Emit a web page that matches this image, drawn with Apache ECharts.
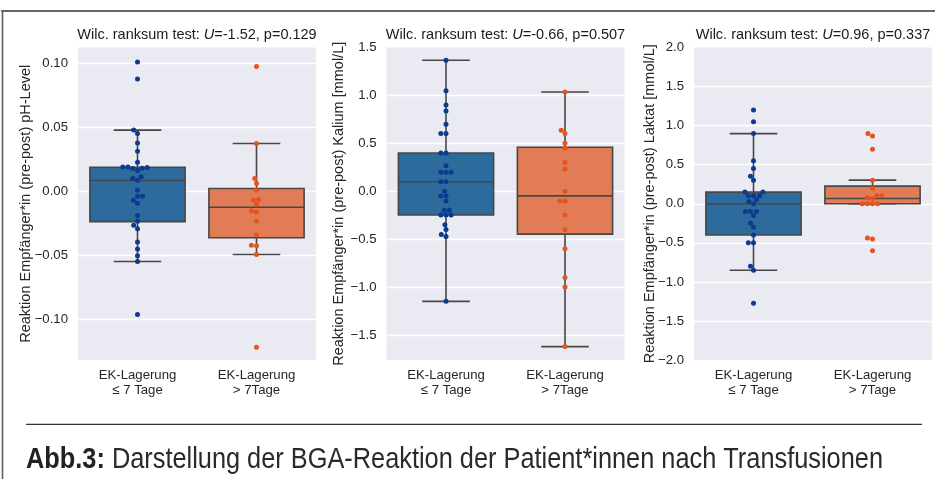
<!DOCTYPE html>
<html><head><meta charset="utf-8">
<script src="https://cdn.jsdelivr.net/npm/echarts@6/dist/echarts.min.js"></script>
<style>html,body{margin:0;padding:0;background:#fff}#c{width:935px;height:479px}</style>
</head><body><div id="c"></div>
<script>
// ---------- data ----------
const categories = ['EK-Lagerung\n≤ 7 Tage', 'EK-Lagerung\n> 7Tage'];
const yNames = [
  'Reaktion Empfänger*in (pre-post) pH-Level',
  'Reaktion Empfänger*in (pre-post) Kalium [mmol/L]',
  'Reaktion Empfänger*in (pre-post) Laktat [mmol/L]'
];
const testU = ['-1.52', '-0.66', '0.96'];
const testP = ['0.129', '0.507', '0.337'];
const captionBold = 'Abb.3:';
const captionText = ' Darstellung der BGA-Reaktion der Patient*innen nach Transfusionen';

// individual values (swarm points)
const phShort = [0.1013, 0.088, 0.0479, 0.0453, 0.0377, 0.0314, 0.0228, 0.019, 0.0186, 0.018, 0.0178, 0.019, 0.0162, 0.0113, 0.0099, 0.0086, 0.0008, -0.0039, -0.0039, -0.0071, -0.0094, -0.0191, -0.0236, -0.0267, -0.0293, -0.0398, -0.0453, -0.0506, -0.055, -0.0966];
const phLong = [0.0977, 0.0374, 0.0099, 0.0063, 0.0008, -0.0065, -0.0071, -0.0102, -0.0152, -0.0162, -0.0233, -0.0343, -0.0424, -0.0427, -0.0495, -0.1223];
const kShort = [1.367, 1.049, 0.899, 0.836, 0.699, 0.601, 0.601, 0.399, 0.399, 0.266, 0.199, 0.199, 0.199, 0.098, 0.098, 0.0, -0.049, -0.049, -0.101, -0.2, -0.2, -0.248, -0.248, -0.248, -0.35, -0.4, -0.451, -0.472, -1.15];
const kLong = [1.035, 0.636, 0.601, 0.5, 0.448, 0.301, 0.231, 0.0, -0.101, -0.101, -0.248, -0.402, -0.601, -0.902, -1.0, -1.622];
const lShort = [1.2, 1.051, 0.898, 0.549, 0.451, 0.353, 0.302, 0.149, 0.149, 0.102, 0.102, 0.102, 0.051, 0.03, 0.0, -0.098, -0.098, -0.098, -0.149, -0.251, -0.302, -0.4, -0.498, -0.498, -0.8, -0.851, -1.272];
const lLong = [0.898, 0.868, 0.698, 0.302, 0.2, 0.102, 0.102, 0.077, 0.068, 0.0, 0.0, 0.0, 0.0, -0.438, -0.451, -0.6];

// box statistics [lower whisker, Q1, median, Q3, upper whisker]
const phBoxShort = [-0.055, -0.0238, 0.0084, 0.0188, 0.0479];
const phBoxLong = [-0.0495, -0.0364, -0.0126, 0.0021, 0.0374];
const kBoxShort = [-1.15, -0.248, 0.098, 0.399, 1.367];
const kBoxLong = [-1.622, -0.448, -0.049, 0.458, 1.035];
const lBoxShort = [-0.851, -0.4, 0.0, 0.149, 0.898];
const lBoxLong = [0.0, 0.0, 0.068, 0.226, 0.302];

// axis ranges
const yMin = [-0.1322, -1.762, -2.0];
const yMax = [0.1126, 1.5, 2.0];

// ---------- styling / layout ----------
const FONT = '"Liberation Sans", Arial, sans-serif';
const TXT = '#262626';
const boxColors = ['#2C6B9B', '#E27C56'];
const dotColors = ['#0B3A8E', '#E4541F'];
const EDGE = '#474747';
const gridLefts = [78, 386.5, 694];
const GW = 238, GTOP = 47.5, GH = 312.5;
const nameGaps = [45, 40.5, 37];
const decimals = [2, 1, 1];
const splitNums = [5, 6, 8];
const showMinLbl = [false, false, true];
const showMaxLbl = [false, true, true];

const panels = [
  { pts: [phShort, phLong], box: [phBoxShort, phBoxLong] },
  { pts: [kShort, kLong], box: [kBoxShort, kBoxLong] },
  { pts: [lShort, lLong], box: [lBoxShort, lBoxLong] }
];

function renderBox(params, api) {
  const ci = api.value(0);
  const p = [1, 2, 3, 4, 5].map(k => api.coord([ci, api.value(k)]));
  const cx = p[0][0];
  const bw = api.size([0.8, 0])[0];
  const hw = bw / 2, cw = bw / 4;
  const ls = { stroke: EDGE, lineWidth: 1.6 };
  return {
    type: 'group', children: [
      { type: 'line', shape: { x1: cx, y1: p[3][1], x2: cx, y2: p[4][1] }, style: ls },
      { type: 'line', shape: { x1: cx, y1: p[0][1], x2: cx, y2: p[1][1] }, style: ls },
      { type: 'line', shape: { x1: cx - cw, y1: p[4][1], x2: cx + cw, y2: p[4][1] }, style: ls },
      { type: 'line', shape: { x1: cx - cw, y1: p[0][1], x2: cx + cw, y2: p[0][1] }, style: ls },
      { type: 'rect', shape: { x: cx - hw, y: p[3][1], width: bw, height: p[1][1] - p[3][1] },
        style: { fill: boxColors[ci], stroke: EDGE, lineWidth: 1.6 } },
      { type: 'line', shape: { x1: cx - hw, y1: p[2][1], x2: cx + hw, y2: p[2][1] }, style: ls }
    ]
  };
}

const grid = [], xAxis = [], yAxis = [], series = [], graphic = [];
panels.forEach((pan, g) => {
  grid.push({ left: gridLefts[g], top: GTOP, width: GW, height: GH, show: true,
    backgroundColor: '#EAEAF2', borderWidth: 0 });
  xAxis.push({ type: 'category', gridIndex: g, data: categories,
    axisLine: { show: false }, axisTick: { show: false }, splitLine: { show: false },
    axisLabel: { fontSize: 13.2, color: TXT, fontFamily: FONT, lineHeight: 15, margin: 8 } });
  xAxis.push({ type: 'value', gridIndex: g, min: -0.5, max: 1.5, show: false, splitLine: { show: false } });
  const dec = decimals[g];
  yAxis.push({ type: 'value', gridIndex: g, min: yMin[g], max: yMax[g], splitNumber: splitNums[g],
    axisLine: { show: false }, axisTick: { show: false },
    splitLine: { show: true, showMinLine: false, showMaxLine: false, lineStyle: { color: '#ffffff', width: 1.3 } },
    axisLabel: { fontSize: 13.2, color: TXT, fontFamily: FONT, margin: 10,
      showMinLabel: showMinLbl[g], showMaxLabel: showMaxLbl[g],
      formatter: v => v.toFixed(dec).replace('-', '\u2212') },
    name: yNames[g], nameLocation: 'middle', nameRotate: 90, nameGap: nameGaps[g],
    nameMoveOverlap: false,
    nameTextStyle: { fontSize: 14.5, color: TXT, fontFamily: FONT } });
  series.push({ type: 'custom', xAxisIndex: 2 * g + 1, yAxisIndex: g, z: 2,
    data: [[0].concat(pan.box[0]), [1].concat(pan.box[1])],
    encode: { x: 0, y: [1, 2, 3, 4, 5] }, renderItem: renderBox, silent: true });
  [0, 1].forEach(c => {
    series.push({ type: 'scatter', xAxisIndex: 2 * g + 1, yAxisIndex: g, z: 5, silent: true,
      symbolSize: 5, itemStyle: { color: dotColors[c], opacity: 1 }, data: [] });
  });
  graphic.push({ type: 'text', x: gridLefts[g] + GW / 2, y: 35, z: 10,
    style: {
      text: '{n|Wilc. ranksum test: }{i|U}{n|=' + testU[g] + ', p=' + testP[g] + '}',
      align: 'center', verticalAlign: 'middle',
      rich: {
        n: { fontSize: 14.5, fontFamily: FONT, fill: '#1a1a1a', color: '#1a1a1a' },
        i: { fontSize: 14.5, fontFamily: FONT, fontStyle: 'italic', fill: '#1a1a1a', color: '#1a1a1a' }
      }
    } });
});

// frame and caption
graphic.push({ type: 'line', shape: { x1: 1, y1: 11, x2: 935, y2: 11 }, style: { stroke: '#666', lineWidth: 2 } });
graphic.push({ type: 'line', shape: { x1: 2.5, y1: 10, x2: 2.5, y2: 479 }, style: { stroke: '#666', lineWidth: 1.7 } });
graphic.push({ type: 'line', shape: { x1: 26, y1: 424.3, x2: 922, y2: 424.3 }, style: { stroke: '#333', lineWidth: 1.3 } });

const CAP_SIZE = 30;
const mctx = document.createElement('canvas').getContext('2d');
mctx.font = 'bold ' + CAP_SIZE + 'px ' + FONT;
const wB = mctx.measureText(captionBold).width;
mctx.font = CAP_SIZE + 'px ' + FONT;
const wR = mctx.measureText(captionText).width;
const capScale = 857 / (wB + wR);
graphic.push({ type: 'group', x: 26, y: 460, scaleX: capScale, children: [
  { type: 'text', x: 0, y: 0, style: { text: '{b|' + captionBold + '}{r|' + captionText + '}',
    align: 'left', verticalAlign: 'middle',
    rich: {
      b: { fontSize: CAP_SIZE, fontWeight: 'bold', fontFamily: FONT, fill: '#222', color: '#222' },
      r: { fontSize: CAP_SIZE, fontFamily: FONT, fill: '#2a2a2a', color: '#2a2a2a' }
    } } }
] });

const chart = echarts.init(document.getElementById('c'), null, { renderer: 'canvas' });
chart.setOption({ animation: false, grid, xAxis, yAxis, series, graphic });

// beeswarm layout (seaborn-like) in pixel space
function swarm(pixYs, d) {
  const order = pixYs.map((y, i) => i).sort((a, b) => pixYs[b] - pixYs[a]);
  const placed = [];
  const off = new Array(pixYs.length).fill(0);
  order.forEach(i => {
    const y = pixYs[i];
    const near = placed.filter(p => Math.abs(p.y - y) < d);
    const cands = [0];
    let leftFirst = true;
    near.forEach(p => {
      const dx = Math.sqrt(Math.max(d * d - (p.y - y) * (p.y - y), 0)) * 1.05;
      const l = p.x - dx, r = p.x + dx;
      if (leftFirst) cands.push(l, r); else cands.push(r, l);
      leftFirst = !leftFirst;
    });
    const sorted = cands.map((c, k) => [c, k]).sort((a, b) => (Math.abs(a[0]) - Math.abs(b[0])) || (a[1] - b[1]));
    let chosen = 0;
    for (const [c] of sorted) {
      if (near.every(p => (p.x - c) * (p.x - c) + (p.y - y) * (p.y - y) >= d * d - 1e-6)) { chosen = c; break; }
    }
    placed.push({ x: chosen, y });
    off[i] = chosen;
  });
  return off;
}

const upd = [];
panels.forEach((pan, g) => {
  upd.push({});
  const x0 = chart.convertToPixel({ xAxisIndex: 2 * g + 1 }, 0);
  const x1 = chart.convertToPixel({ xAxisIndex: 2 * g + 1 }, 1);
  const unit = x1 - x0;
  [0, 1].forEach(c => {
    const vals = pan.pts[c];
    const pys = vals.map(v => chart.convertToPixel({ yAxisIndex: g }, v));
    const offs = swarm(pys, 4.9);
    upd.push({ data: vals.map((v, k) => [c + offs[k] / unit, v]) });
  });
});
chart.setOption({ series: upd });
</script></body></html>
